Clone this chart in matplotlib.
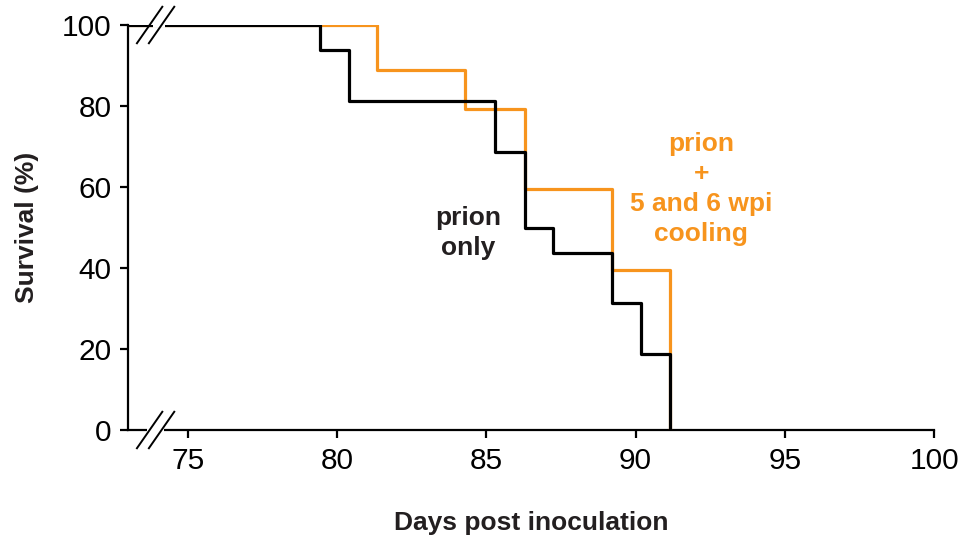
import matplotlib.pyplot as plt

plt.rcParams['font.family'] = ['Liberation Sans', 'DejaVu Sans']

# Survival data (step curves)
prion_only_days = [73, 79.43, 80.4, 85.3, 86.3, 87.25, 89.2, 90.2, 91.15]
prion_only_surv = [100, 93.75, 81.25, 68.75, 50, 43.75, 31.25, 18.75, 0]

cooling_days = [73, 81.35, 84.3, 86.3, 89.2, 91.15]
cooling_surv = [100, 89, 79.3, 59.5, 39.5, 0]

x_ticks = [75, 80, 85, 90, 95, 100]
y_ticks = [0, 20, 40, 60, 80, 100]

orange = '#F7941D'
dark = '#231F20'

fig = plt.figure(figsize=(9.74, 5.4), dpi=100)
ax = fig.add_axes([0.1314, 0.2037, 0.8276, 0.75])

ax.step(cooling_days, cooling_surv, where='post', color=orange, lw=2.3, zorder=3)
ax.step(prion_only_days, prion_only_surv, where='post', color='black', lw=2.3, zorder=4)

ax.set_xlim(73, 100)
ax.set_ylim(0, 100)
ax.set_xticks(x_ticks)
ax.set_yticks(y_ticks)

for s in ['top', 'right']:
    ax.spines[s].set_visible(False)
for s in ['left', 'bottom']:
    ax.spines[s].set_linewidth(1.6)
ax.tick_params(direction='out', length=6, width=1.6, labelsize=21.5, pad=6)

# axis break marks (white gap + two slashes), top line and x axis
ax.plot([73.85, 74.25], [100, 100], color='white', lw=4, zorder=5, clip_on=False, solid_capstyle='butt')
ax.plot([73.63, 74.2], [0, 0], color='white', lw=4, zorder=5, clip_on=False, solid_capstyle='butt')
for dx in [0, 0.4]:
    ax.plot([73.3 + dx, 74.15 + dx], [95.5, 104.5], color='black', lw=1.4, zorder=6, clip_on=False)
    ax.plot([73.3 + dx, 74.15 + dx], [-4.5, 4.5], color='black', lw=1.4, zorder=6, clip_on=False)

ax.set_xlabel('Days post inoculation', fontsize=19, fontweight='bold', color=dark, labelpad=26)
ax.set_ylabel('Survival (%)', fontsize=19, fontweight='bold', color=dark, labelpad=16)

ax.text(84.4, 48.6, 'prion\nonly', ha='center', va='center', fontsize=19,
        fontweight='bold', color=dark, linespacing=1.3)
ax.text(92.2, 59.5, 'prion\n+\n5 and 6 wpi\ncooling', ha='center', va='center',
        fontsize=19, fontweight='bold', color=orange, linespacing=1.3)

fig.savefig('out.png', dpi=100)
